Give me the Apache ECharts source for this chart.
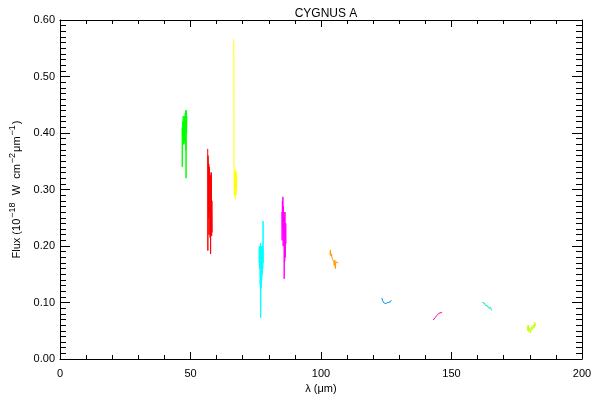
<!DOCTYPE html>
<html>
<head>
<meta charset="utf-8">
<script src="https://cdn.jsdelivr.net/npm/echarts@6/dist/echarts.min.js"></script>
<style>html,body{margin:0;padding:0;background:#fff}#c{width:600px;height:400px}</style>
</head>
<body>
<div id="c"></div>
<script>
// Wavelength (µm) and flux (1e-18 W cm^-2 µm^-1) for each spectral segment
const greenL = [46.8, 46.85, 46.9, 47.0, 47.1, 47.2, 47.3, 47.4, 47.5, 47.6, 47.7, 47.8, 47.9, 48.0, 48.1, 48.2, 48.3, 48.4, 48.5, 48.6];
const greenF = [0.41, 0.34, 0.41, 0.42, 0.39, 0.43, 0.38, 0.42, 0.39, 0.425, 0.385, 0.43, 0.38, 0.435, 0.37, 0.44, 0.32, 0.44, 0.40, 0.43];

const redL = [56.6, 56.65, 56.7, 56.8, 56.9, 57.0, 57.1, 57.2, 57.3, 57.4, 57.5, 57.6, 57.7, 57.8, 57.9, 58.0, 58.1, 58.2, 58.3];
const redF = [0.372, 0.192, 0.36, 0.35, 0.25, 0.345, 0.22, 0.34, 0.26, 0.33, 0.215, 0.325, 0.186, 0.30, 0.23, 0.33, 0.218, 0.28, 0.224];

const yellowL = [66.6, 66.65, 66.7, 66.8, 66.9, 67.0, 67.1, 67.2, 67.3, 67.4, 67.5, 67.6, 67.7];
const yellowF = [0.566, 0.35, 0.34, 0.29, 0.32, 0.30, 0.33, 0.283, 0.335, 0.29, 0.32, 0.30, 0.33];

const cyanL = [76.3, 76.35, 76.4, 76.5, 76.6, 76.7, 76.8, 76.9, 77.0, 77.1, 77.2, 77.3, 77.4, 77.5, 77.6, 77.7, 77.8, 77.9];
const cyanF = [0.20, 0.17, 0.195, 0.16, 0.20, 0.13, 0.205, 0.073, 0.19, 0.125, 0.20, 0.14, 0.195, 0.15, 0.20, 0.16, 0.244, 0.17];

const magentaL = [85.0, 85.1, 85.2, 85.3, 85.4, 85.5, 85.6, 85.7, 85.8, 85.9, 86.0, 86.1, 86.2, 86.3, 86.5, 86.6];
const magentaF = [0.26, 0.21, 0.28, 0.23, 0.287, 0.20, 0.27, 0.22, 0.26, 0.142, 0.25, 0.173, 0.26, 0.18, 0.24, 0.204];

const orangeL = [103.4, 103.6, 103.8, 104.0, 104.3, 104.6, 104.9, 105.1, 105.3, 105.5, 105.7, 106.0, 106.3, 106.6];
const orangeF = [0.185, 0.193, 0.182, 0.186, 0.178, 0.18, 0.172, 0.165, 0.175, 0.16, 0.172, 0.17, 0.172, 0.17];

const blueL = [123.3, 123.6, 123.9, 124.2, 124.5, 124.8, 125.2, 125.6, 126.0, 126.5, 127.0];
const blueF = [0.108, 0.104, 0.10, 0.097, 0.10, 0.098, 0.101, 0.10, 0.102, 0.101, 0.104];

const pinkL = [143.0, 143.3, 143.7, 144.0, 144.4, 144.8, 145.2, 145.6, 146.0, 146.4];
const pinkF = [0.069, 0.072, 0.073, 0.075, 0.077, 0.08, 0.081, 0.08, 0.082, 0.083];

const tealL = [161.8, 162.2, 162.6, 163.0, 163.4, 163.8, 164.2, 164.6, 165.0, 165.3];
const tealF = [0.10, 0.10, 0.099, 0.095, 0.093, 0.094, 0.09, 0.088, 0.091, 0.086];

const limeL = [179.0, 179.2, 179.4, 179.7, 180.0, 180.3, 180.6, 181.0, 181.3, 181.6, 181.9, 182.2];
const limeF = [0.058, 0.05, 0.06, 0.048, 0.055, 0.046, 0.057, 0.052, 0.06, 0.055, 0.065, 0.058];

const segments = [
  [greenL, greenF, '#00ff00'],
  [redL, redF, '#ff0000'],
  [yellowL, yellowF, '#ffff00'],
  [cyanL, cyanF, '#00ffff'],
  [magentaL, magentaF, '#ff00ff'],
  [orangeL, orangeF, '#ff9900'],
  [blueL, blueF, '#0090f0'],
  [pinkL, pinkF, '#ff0099'],
  [tealL, tealF, '#00e6b4'],
  [limeL, limeF, '#c8ff00']
];

const font = 'Liberation Sans, Arial, sans-serif';
const chart = echarts.init(document.getElementById('c'));

const series = segments.map(([L, F, col]) => ({
  type: 'line',
  xAxisIndex: 0, yAxisIndex: 0,
  data: L.map((x, k) => [x, F[k]]),
  showSymbol: false,
  lineStyle: { color: col, width: 1 },
  itemStyle: { color: col },
  animation: false,
  silent: true
}));

const xBase = {
  type: 'value', min: 0, max: 200, interval: 50,
  axisLine: { show: true, onZero: false, lineStyle: { color: '#000', width: 1 } },
  axisTick: { show: true, inside: true, length: 7, lineStyle: { color: '#000' } },
  minorTick: { show: true, splitNumber: 5, length: 4, lineStyle: { color: '#000' } },
  splitLine: { show: false }
};
const yBase = {
  type: 'value', min: 0, max: 0.6, interval: 0.1,
  axisLine: { show: true, onZero: false, lineStyle: { color: '#000', width: 1 } },
  axisTick: { show: true, inside: true, length: 10, lineStyle: { color: '#000' } },
  minorTick: { show: true, splitNumber: 10, length: 6, lineStyle: { color: '#000' } },
  splitLine: { show: false }
};

chart.setOption({
  animation: false,
  backgroundColor: '#fff',
  title: {
    text: 'CYGNUS A', left: 321, top: 3, textAlign: 'center',
    textStyle: { fontFamily: font, fontSize: 12, fontWeight: 'normal', color: '#000' }
  },
  grid: { left: 60, right: 18, top: 20, bottom: 41, containLabel: false, outerBoundsMode: 'none' },
  xAxis: [
    Object.assign({}, xBase, {
      position: 'bottom',
      axisLabel: { show: true, color: '#000', fontFamily: font, fontSize: 11, margin: 9 },
      name: 'λ (μm)', nameLocation: 'middle', nameGap: 24,
      nameTextStyle: { color: '#000', fontFamily: font, fontSize: 11 }
    }),
    Object.assign({}, xBase, { position: 'top', axisLabel: { show: false } })
  ],
  yAxis: [
    Object.assign({}, yBase, {
      position: 'left',
      axisLabel: { show: true, color: '#000', fontFamily: font, fontSize: 11, margin: 5,
        formatter: v => v.toFixed(2) },
      name: '{n|Flux (10}{s|−18}{n|  W  cm}{s|−2}{n|μm}{s|−1}{n|)}',
      nameLocation: 'middle', nameGap: 30,
      nameTextStyle: {
        color: '#000', fontFamily: font, fontSize: 11,
        rich: {
          n: { fontFamily: font, fontSize: 11, color: '#000' },
          s: { fontFamily: font, fontSize: 9, color: '#000', padding: [0, 1, 10, 1] }
        }
      }
    }),
    Object.assign({}, yBase, { position: 'right', axisLabel: { show: false } })
  ],
  series: series
});
</script>
</body>
</html>
